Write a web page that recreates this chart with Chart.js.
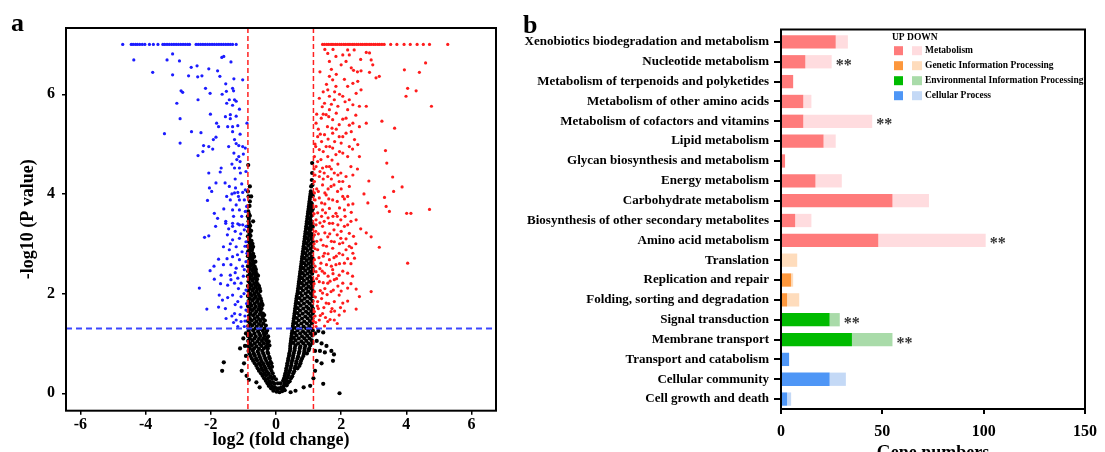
<!DOCTYPE html>
<html>
<head>
<meta charset="utf-8">
<script src="https://cdn.jsdelivr.net/npm/chart.js@4.4.0/dist/chart.umd.min.js"></script>
<style>
  html, body { margin: 0; padding: 0; background: #fff; }
  #wrap { position: relative; width: 1105px; height: 452px; overflow: hidden; font-family: "Liberation Serif", "Times New Roman", serif; }
  .panel { position: absolute; top: 0; }
  #volcanoBox { left: 0; width: 500px; height: 452px; }
  #keggBox { left: 520px; width: 585px; height: 464px; }
  .tag { position: absolute; font-weight: bold; font-size: 26px; line-height: 26px; }
</style>
</head>
<body>
<div id="wrap">
  <div class="panel" id="volcanoBox"><canvas id="volcano"></canvas></div>
  <div class="panel" id="keggBox"><canvas id="kegg"></canvas></div>
  <div class="tag" style="left:11px;top:10px">a</div>
  <div class="tag" style="left:523px;top:12px">b</div>
</div>
<script>
// ---------- panel a: volcano plot (log2 FC, -log10 P) ----------
const foldTicks = [-6, -4, -2, 0, 2, 4, 6];
const pTicks = [0, 2, 4, 6];
const foldCutoffs = [-0.86, 1.15];
const pCutoff = 1.3;

// down-regulated (blue)
const downGenes = [
  [-4.70,7.0],[-4.44,7.0],[-4.38,7.0],[-4.31,7.0],[-4.25,7.0],[-4.18,7.0],[-4.10,7.0],[-4.02,7.0],[-3.88,7.0],[-3.76,7.0],
  [-3.62,7.0],[-3.47,7.0],[-3.41,7.0],[-3.34,7.0],[-3.27,7.0],[-3.20,7.0],[-3.13,7.0],[-3.06,7.0],[-2.99,7.0],[-2.92,7.0],
  [-2.85,7.0],[-2.78,7.0],[-2.71,7.0],[-2.65,7.0],[-2.45,7.0],[-2.38,7.0],[-2.31,7.0],[-2.24,7.0],[-2.17,7.0],[-2.10,7.0],
  [-2.03,7.0],[-1.96,7.0],[-1.89,7.0],[-1.82,7.0],[-1.75,7.0],[-1.68,7.0],[-1.61,7.0],[-1.54,7.0],[-1.47,7.0],[-1.40,7.0],
  [-1.33,7.0],[-1.22,7.0],
  [-4.36,6.69],[-3.78,6.44],[-3.34,6.69],[-3.17,6.81],[-2.96,6.67],[-3.17,6.39],[-2.91,6.07],[-2.86,6.04],[-3.04,5.82],
  [-2.94,5.51],[-3.42,5.21],[-2.94,5.02],[-2.59,5.25],[-2.30,5.23],[-2.60,6.54],[-2.42,6.57],[-2.68,6.37],[-2.40,6.35],
  [-2.27,6.37],[-2.06,6.51],[-2.16,6.12],[-2.02,6.02],[-2.39,5.89],[-2.01,5.60],[-1.82,5.42],[-1.76,5.35],[-1.79,6.47],
  [-1.72,6.36],[-1.66,6.74],[-1.60,6.76],[-1.38,6.65],[-1.54,6.21],[-1.29,6.31],[-1.02,6.29],[-1.52,6.06],[-1.33,6.12],
  [-1.30,6.07],[-1.43,5.89],[-1.27,5.89],[-1.51,5.82],[-1.33,5.78],[-1.22,5.86],[-1.40,5.59],[-1.40,5.51],[-1.22,5.56],
  [-1.48,5.35],[-1.33,5.35],[-1.17,5.37],[-0.89,5.42],[-1.33,5.25],[-1.27,5.09],[-1.84,5.14],[-1.92,5.09],[-2.06,4.95],
  [-2.22,4.97],[-2.24,4.85],[-2.39,4.77],[-1.94,4.90],[-1.22,5.01],[-1.14,4.97],[-1.02,4.95],[-0.94,4.92],[-1.29,4.82],
  [-1.14,4.75],[-1.20,4.69],[-1.27,4.52],[-1.12,4.52],[-1.09,4.42],[-1.68,4.52],[-1.71,4.44],[-2.06,4.42],[-1.84,4.22],
  [-1.56,4.22],[-2.04,4.12],[-1.97,4.05],[-2.10,3.87],[-1.43,4.15],[-1.24,4.12],[-1.27,4.02],[-1.17,4.03],[-1.02,4.03],
  [-0.94,4.08],[-1.51,3.95],[-1.40,3.88],[-1.12,3.88],[-0.97,3.88],[-1.22,3.78],[-1.33,3.68],[-1.12,3.68],[-0.94,3.65],
  [-1.89,3.61],[-1.79,3.51],[-1.54,3.45],[-1.33,3.41],[-1.17,3.40],[-1.02,3.38],[-0.92,3.35],
  [-2.06,3.16],[-2.19,3.13],[-1.54,3.41],[-1.33,3.35],[-1.12,3.38],[-0.97,3.28],[-1.49,3.18],[-1.33,3.08],[-1.12,3.11],
  [-0.92,3.04],[-1.61,2.94],[-1.43,2.88],[-1.22,2.94],[-1.04,2.84],[-0.89,2.81],[-1.76,2.69],[-1.33,2.74],[-1.12,2.68],
  [-0.92,2.64],[-1.61,2.58],[-1.38,2.58],[-1.22,2.51],[-2.02,2.46],[-0.97,2.48],[-1.40,2.37],[-1.17,2.31],[-1.68,2.37],
  [-1.89,2.29],[-1.48,2.17],[-1.27,2.21],[-1.07,2.21],[-2.35,2.11],[-0.92,2.07],[-1.74,1.97],[-1.33,1.97],[-1.07,1.94],
  [-1.64,1.87],[-1.17,1.84],[-1.76,1.73],[-1.07,1.73],[-2.12,1.69],[-0.92,1.67],[-1.27,1.60],[-1.53,1.50],[-1.22,1.47],
  [-1.07,1.44],[-0.97,1.34],[-1.17,1.34],
  [-0.95,1.55],[-1.10,1.58],[-1.35,1.55],[-0.90,1.80],[-1.25,1.78],[-1.48,1.92],[-0.98,2.00],[-1.15,2.10],[-1.38,2.28],
  [-1.00,2.35],[-1.25,2.42],[-1.50,2.70],[-1.02,2.55],[-1.18,2.78],[-1.40,3.00],[-0.95,2.95],[-1.08,3.20],[-1.25,3.25],
  [-1.45,3.30],[-1.60,3.70],[-1.05,3.55],[-1.30,3.55],[-0.90,3.75],[-1.15,3.95],[-1.35,4.00],[-1.05,4.20],[-1.25,4.30],
  [-0.92,4.45],[-1.10,4.65],[-1.35,4.60],[-1.00,4.80],[-1.45,4.95],[-1.10,5.20],[-1.55,5.55],[-1.12,5.70],[-1.65,6.00],
  [-0.95,1.45],[-1.30,1.42],[-1.55,1.70],[-1.90,2.55],[-1.70,2.20],[-1.85,3.35]
];

// up-regulated (red)
const upGenes = [
  [1.43,7.0],[1.49,7.0],[1.56,7.0],[1.62,7.0],[1.69,7.0],[1.75,7.0],[1.82,7.0],[1.88,7.0],[1.95,7.0],[2.01,7.0],
  [2.08,7.0],[2.14,7.0],[2.21,7.0],[2.27,7.0],[2.34,7.0],[2.40,7.0],[2.47,7.0],[2.53,7.0],[2.60,7.0],[2.66,7.0],
  [2.73,7.0],[2.79,7.0],[2.86,7.0],[2.92,7.0],[2.99,7.0],[3.05,7.0],[3.12,7.0],[3.18,7.0],[3.25,7.0],[3.32,7.0],
  [3.52,7.0],[3.71,7.0],[3.93,7.0],[4.12,7.0],[4.33,7.0],[4.52,7.0],[4.71,7.0],[5.27,7.0],
  [1.59,6.82],[1.64,6.66],[1.84,6.76],[2.05,6.79],[2.20,6.89],[2.25,6.79],[2.40,6.89],[2.15,6.66],[2.00,6.59],[2.77,6.84],
  [2.87,6.83],[2.92,6.69],[2.97,6.59],[2.31,6.53],[2.38,6.48],[2.61,6.47],[2.87,6.44],[3.07,6.33],[3.17,6.36],[1.64,6.36],
  [1.74,6.29],[1.84,6.16],[1.59,6.09],[1.64,5.96],[1.79,5.89],[1.33,5.92],[1.49,5.82],[2.05,5.96],[2.20,6.16],[2.36,6.22],
  [2.51,6.26],[2.61,6.09],[2.46,6.02],[2.25,5.89],[2.36,5.79],[2.56,5.76],[2.77,5.76],[2.20,5.69],[1.90,5.76],[1.64,5.69],
  [1.54,5.59],[1.39,5.52],[1.23,5.42],[1.74,5.49],[1.94,5.39],[2.15,5.52],[2.36,5.42],[2.56,5.35],[2.77,5.42],[3.25,5.46],
  [3.64,5.32],[3.94,6.49],[4.40,6.44],[4.59,6.63],[4.04,6.12],[4.30,6.07],[3.99,5.96],[4.77,5.76],[1.28,5.15],[1.49,5.19],
  [1.74,5.22],[1.94,5.15],[2.15,5.22],[2.31,5.25],[2.41,5.09],[2.51,4.99],[2.25,4.95],[2.00,5.02],[1.74,4.92],[1.54,4.95],
  [1.33,4.89],[1.18,4.75],[1.38,4.69],[1.59,4.75],[1.84,4.79],[2.05,4.82],[2.20,4.75],[2.56,4.75],[3.36,4.87],[3.40,4.62],
  [3.58,4.34],[3.87,4.14],[3.61,4.05],[3.33,3.93],[3.38,3.75],[3.48,3.65],[4.01,3.61],[4.14,3.61],[4.71,3.69],[2.85,4.26],
  [2.82,3.82],[2.36,3.80],[2.31,3.63],[2.46,3.48],[1.23,4.55],[1.43,4.52],[1.64,4.55],[1.79,4.42],[1.59,4.35],[1.33,4.35],
  [1.18,4.25],[1.43,4.18],[1.69,4.15],[1.94,4.25],[2.15,4.35],[2.36,4.38],[1.99,4.42],[2.25,4.15],[1.89,4.05],[1.18,4.02],
  [1.33,3.92],[1.54,3.98],[1.74,3.88],[2.05,3.95],[1.23,3.75],[1.43,3.68],[1.64,3.71],[1.84,3.61],[2.10,3.68],[1.23,3.48],
  [1.48,3.45],[1.74,3.41],[1.99,3.48],[2.20,3.38],
  [1.23,3.38],[1.43,3.35],[1.64,3.41],[1.90,3.38],[2.10,3.35],[2.25,3.21],[2.77,3.22],[2.92,3.14],[3.17,2.93],[4.04,2.61],
  [1.18,3.18],[1.38,3.08],[1.59,3.14],[1.79,3.04],[1.99,3.11],[1.28,2.88],[1.49,2.81],[1.74,2.91],[1.94,2.81],[2.15,2.88],
  [2.36,2.81],[2.41,2.71],[1.18,2.68],[1.38,2.61],[1.64,2.68],[1.84,2.58],[2.10,2.61],[1.23,2.44],[1.49,2.41],[1.74,2.48],
  [1.94,2.37],[2.20,2.41],[1.33,2.24],[1.59,2.21],[1.79,2.28],[2.05,2.21],[2.20,2.11],[2.46,2.09],[2.92,2.04],[2.56,1.94],
  [1.18,2.04],[1.43,2.01],[1.69,2.04],[1.94,1.97],[1.28,1.84],[1.54,1.81],[1.79,1.84],[2.05,1.81],[2.46,1.69],[1.18,1.64],
  [1.43,1.60],[1.69,1.64],[1.94,1.57],[1.33,1.47],[1.59,1.44],[1.79,1.47],[1.23,1.34],[1.49,1.35],
  [1.20,1.55],[1.30,1.70],[1.40,1.90],[1.50,2.10],[1.60,2.35],[1.70,2.55],[1.85,2.75],[1.95,3.00],[1.25,2.30],[1.35,2.50],
  [1.45,2.75],[1.55,2.95],[1.65,3.20],[1.75,3.55],[1.20,2.90],[1.30,3.20],[1.40,3.55],[1.50,3.80],[1.60,4.10],[1.70,4.30],
  [1.25,4.10],[1.35,4.45],[1.45,4.30],[1.55,4.55],[1.65,4.95],[1.80,5.05],[1.90,4.60],[2.00,4.10],[2.10,3.90],[2.15,3.10],
  [2.25,2.95],[2.30,2.60],[1.90,2.15],[1.80,1.65],[2.10,1.65],[1.15,1.45],[1.17,2.20],[1.17,3.00],[1.17,3.60],[1.17,4.50],
  [1.20,5.00],[1.30,5.30],[1.45,5.60],[1.55,6.20],[1.70,6.50],[1.85,6.40],[1.95,6.00],[2.05,5.50],[1.85,5.30],[2.50,4.50],
  [2.70,4.00],[2.60,3.30],[2.45,3.00],[1.35,6.45],[1.50,6.90],[1.75,6.90],[2.60,6.70],
  [1.22,1.42],[1.36,1.56],[1.52,1.52],[1.66,1.48],[1.88,1.40],[1.27,1.75],[1.47,1.72],[1.62,1.80],[1.72,1.70],[1.98,1.72],
  [2.20,1.85],[1.21,1.93],[1.36,2.06],[1.57,1.98],[1.76,2.07],[2.00,2.05],[2.30,2.20],[1.30,2.36],[1.45,2.22],[1.66,2.25],
  [1.86,2.30],[2.05,2.45],[2.35,2.35],[1.20,2.55],[1.42,2.45],[1.55,2.58],[1.75,2.40],[1.95,2.60],[2.20,2.70],[1.32,2.72],
  [1.60,2.80],[1.78,2.72],[2.05,2.78],[2.32,2.92],[1.25,3.05],[1.45,2.97],[1.70,3.05],[1.88,3.18],[2.05,3.02],[2.38,3.15],
  [1.22,3.25],[1.50,3.22],[1.78,3.28],[2.00,3.25],[2.30,3.45],[1.35,3.42],[1.60,3.52],[1.88,3.55],[2.12,3.55],[1.28,3.62],
  [1.52,3.62],[1.95,3.72],[2.22,3.78],[1.20,3.88],[1.40,3.82],[1.62,3.90],[1.88,3.85],[2.20,3.95],[1.30,4.05],[1.50,4.02],
  [1.78,4.18],[2.05,4.25],[1.20,4.38],[1.48,4.42],[1.70,4.50],[1.90,4.38],[2.30,4.55],[1.28,4.65],[1.45,4.85],[1.72,4.68],
  [1.95,4.85],[2.35,4.90],[1.22,4.95],[1.40,5.05],[1.60,5.10],[2.05,5.15],[1.36,5.20],[1.58,5.35],[1.72,5.32],[2.25,5.38],
  [1.25,5.60],[1.62,5.55],[1.85,5.62],[2.45,5.58],[1.42,5.75],[1.70,5.80],[2.12,5.85],[1.45,6.05],[1.80,6.05],[2.10,6.30],
  [2.50,6.45]
];

// not significant (black)
const nsGenes = [
  [-0.08,0.05],[0.02,0.03],[0.11,0.02],[0.19,0.04],[0.27,0.06],
  [-0.15,0.10],[-0.05,0.10],[0.05,0.08],[0.15,0.09],[0.23,0.10],
  [-0.22,0.15],[-0.12,0.14],[-0.03,0.12],[0.07,0.10],[0.16,0.12],[0.24,0.15],[0.33,0.16],
  [-0.26,0.20],[-0.15,0.20],[-0.04,0.19],[0.14,0.20],[0.27,0.20],[0.37,0.21],
  [-0.31,0.25],[-0.20,0.24],[-0.09,0.22],[0.06,0.20],[0.22,0.25],[0.31,0.26],[0.42,0.24],
  [-0.36,0.30],[-0.24,0.30],[-0.12,0.29],[0.00,0.28],[0.25,0.30],[0.35,0.31],[0.46,0.30],
  [-0.41,0.35],[-0.30,0.36],[-0.17,0.34],[-0.06,0.33],[0.27,0.35],[0.38,0.36],[0.50,0.34],
  [-0.46,0.40],[-0.35,0.40],[-0.22,0.39],[-0.10,0.40],[0.29,0.40],[0.40,0.41],[0.53,0.40],
  [-0.52,0.45],[-0.40,0.46],[-0.28,0.44],[-0.14,0.45],[0.31,0.45],[0.43,0.46],[0.56,0.44],
  [-0.56,0.50],[-0.44,0.50],[-0.31,0.49],[-0.18,0.50],[0.32,0.50],[0.45,0.51],[0.58,0.50],[0.66,0.50],
  [-0.60,0.55],[-0.47,0.56],[-0.35,0.54],[-0.22,0.55],[-0.12,0.53],[0.34,0.55],[0.47,0.56],[0.60,0.54],[0.72,0.55],
  [-0.65,0.60],[-0.52,0.60],[-0.39,0.59],[-0.26,0.60],[-0.14,0.60],[0.35,0.60],[0.48,0.61],[0.62,0.60],[0.75,0.60],
  [-0.70,0.65],[-0.58,0.66],[-0.44,0.64],[-0.30,0.65],[-0.17,0.63],[0.37,0.65],[0.50,0.66],[0.63,0.64],[0.77,0.65],
  [-0.74,0.70],[-0.61,0.70],[-0.47,0.69],[-0.33,0.70],[-0.19,0.70],[0.38,0.70],[0.52,0.71],[0.66,0.70],[0.80,0.70],
  [-0.78,0.75],[-0.65,0.76],[-0.50,0.74],[-0.36,0.75],[-0.21,0.73],[0.40,0.75],[0.53,0.76],[0.68,0.74],[0.84,0.75],
  [-0.81,0.80],[-0.68,0.80],[-0.53,0.79],[-0.39,0.80],[-0.24,0.80],[0.41,0.80],[0.55,0.81],[0.70,0.80],[0.86,0.80],[0.95,0.80],
  [-0.84,0.85],[-0.71,0.86],[-0.56,0.84],[-0.42,0.85],[-0.26,0.83],[0.43,0.85],[0.57,0.86],[0.72,0.84],[0.87,0.85],[1.00,0.86],
  [-0.80,0.90],[-0.67,0.90],[-0.52,0.89],[-0.37,0.90],[-0.25,0.90],[0.44,0.90],[0.58,0.91],[0.73,0.90],[0.88,0.90],[1.02,0.90],
  [-0.86,0.95],[-0.74,0.96],[-0.60,0.94],[-0.45,0.95],[-0.30,0.94],[-0.20,0.96],[0.44,0.95],[0.60,0.96],[0.75,0.94],[0.90,0.95],[1.05,0.96],
  [-0.79,1.00],[-0.65,1.00],[-0.50,0.99],[-0.37,1.00],[-0.26,1.00],[0.45,1.00],[0.53,1.01],[0.68,1.00],[0.84,1.00],[1.00,1.00],[1.12,1.01],
  [-0.85,1.05],[-0.72,1.06],[-0.57,1.04],[-0.43,1.05],[-0.30,1.06],[-0.22,1.04],[0.46,1.05],[0.60,1.06],[0.78,1.04],[0.93,1.05],[1.10,1.06],
  [-0.80,1.10],[-0.66,1.10],[-0.52,1.09],[-0.39,1.10],[-0.28,1.10],[0.47,1.10],[0.55,1.11],[0.70,1.10],[0.87,1.10],[1.03,1.10],
  [-0.86,1.15],[-0.76,1.16],[-0.62,1.14],[-0.48,1.15],[-0.35,1.16],[-0.24,1.14],[0.48,1.15],[0.63,1.16],[0.80,1.14],[0.96,1.15],[1.12,1.16],
  [-0.81,1.20],[-0.66,1.20],[-0.51,1.19],[-0.37,1.20],[-0.30,1.21],[0.49,1.20],[0.58,1.21],[0.74,1.20],[0.90,1.20],[1.06,1.20],
  [-0.84,1.25],[-0.70,1.26],[-0.55,1.24],[-0.40,1.25],[-0.27,1.26],[0.50,1.25],[0.66,1.26],[0.83,1.24],[0.99,1.25],[1.13,1.26],
  [-0.78,1.30],[-0.63,1.30],[-0.48,1.29],[-0.35,1.30],[0.51,1.30],[0.60,1.31],[0.76,1.30],[0.93,1.30],[1.08,1.30],
  [-0.85,1.35],[-0.73,1.36],[-0.59,1.34],[-0.45,1.35],[-0.31,1.36],[0.52,1.35],[0.68,1.36],[0.85,1.34],[1.02,1.35],
  [-0.80,1.40],[-0.66,1.40],[-0.52,1.39],[-0.39,1.40],[0.53,1.40],[0.62,1.41],[0.78,1.40],[0.95,1.40],[1.10,1.40],
  [-0.86,1.45],[-0.74,1.46],[-0.60,1.44],[-0.47,1.45],[-0.34,1.46],[0.54,1.45],[0.70,1.46],[0.87,1.44],[1.04,1.45],
  [-0.80,1.50],[-0.65,1.50],[-0.52,1.49],[-0.40,1.50],[0.55,1.50],[0.64,1.51],[0.80,1.50],[0.97,1.50],[1.12,1.50],
  [-0.83,1.55],[-0.70,1.56],[-0.57,1.54],[-0.42,1.55],[-0.36,1.57],[0.56,1.55],[0.72,1.56],[0.90,1.54],[1.06,1.55],
  [-0.78,1.60],[-0.64,1.60],[-0.50,1.59],[-0.40,1.60],[0.57,1.60],[0.66,1.61],[0.82,1.60],[0.99,1.60],[1.13,1.60],
  [-0.85,1.65],[-0.73,1.66],[-0.60,1.64],[-0.47,1.65],[0.58,1.65],[0.74,1.66],[0.92,1.64],[1.08,1.65],
  [-0.80,1.70],[-0.67,1.70],[-0.54,1.69],[-0.44,1.70],[0.59,1.70],[0.67,1.71],[0.84,1.70],[1.00,1.70],[1.13,1.70],
  [-0.86,1.75],[-0.75,1.76],[-0.62,1.74],[-0.50,1.75],[-0.41,1.77],[0.60,1.75],[0.76,1.76],[0.94,1.74],[1.10,1.75],
  [-0.79,1.80],[-0.65,1.80],[-0.52,1.79],[-0.43,1.80],[0.61,1.80],[0.70,1.81],[0.86,1.80],[1.03,1.80],
  [-0.84,1.85],[-0.72,1.86],[-0.58,1.84],[-0.45,1.85],[0.62,1.85],[0.79,1.86],[0.96,1.84],[1.12,1.85],
  [-0.80,1.90],[-0.67,1.90],[-0.55,1.89],[-0.47,1.90],[0.63,1.90],[0.72,1.91],[0.88,1.90],[1.05,1.90],
  [-0.86,1.95],[-0.74,1.96],[-0.62,1.94],[-0.50,1.95],[0.64,1.95],[0.80,1.96],[0.97,1.94],[1.12,1.95],
  [-0.79,2.00],[-0.66,2.00],[-0.54,1.99],[0.66,2.00],[0.75,2.01],[0.91,2.00],[1.07,2.00],
  [-0.85,2.05],[-0.72,2.06],[-0.60,2.04],[-0.48,2.05],[0.67,2.05],[0.83,2.06],[0.99,2.04],[1.13,2.05],
  [-0.80,2.10],[-0.68,2.10],[-0.57,2.09],[-0.50,2.10],[0.68,2.10],[0.77,2.11],[0.93,2.10],[1.08,2.10],
  [-0.86,2.15],[-0.75,2.16],[-0.63,2.14],[-0.52,2.15],[0.69,2.15],[0.85,2.16],[1.00,2.14],[1.12,2.15],
  [-0.80,2.20],[-0.67,2.20],[-0.56,2.19],[0.70,2.20],[0.79,2.21],[0.94,2.20],[1.09,2.20],
  [-0.84,2.25],[-0.72,2.26],[-0.60,2.24],[0.71,2.25],[0.86,2.26],[1.02,2.24],[1.13,2.25],
  [-0.79,2.30],[-0.68,2.30],[-0.58,2.29],[0.72,2.30],[0.80,2.31],[0.96,2.30],[1.10,2.30],
  [-0.86,2.35],[-0.75,2.36],[-0.63,2.34],[-0.55,2.36],[0.73,2.35],[0.88,2.36],[1.04,2.34],
  [-0.80,2.40],[-0.69,2.40],[-0.59,2.39],[0.74,2.40],[0.82,2.41],[0.97,2.40],[1.11,2.40],
  [-0.85,2.45],[-0.73,2.46],[-0.62,2.44],[0.75,2.45],[0.90,2.46],[1.05,2.44],[1.13,2.45],
  [-0.80,2.50],[-0.70,2.50],[-0.62,2.49],[0.76,2.50],[0.84,2.51],[0.99,2.50],[1.12,2.50],
  [-0.86,2.55],[-0.76,2.56],[-0.65,2.54],[0.77,2.55],[0.92,2.56],[1.07,2.54],
  [-0.79,2.60],[-0.69,2.60],[0.78,2.60],[0.86,2.61],[1.00,2.60],[1.12,2.60],
  [-0.84,2.65],[-0.73,2.66],[-0.63,2.64],[0.79,2.65],[0.94,2.66],[1.08,2.64],
  [-0.80,2.70],[-0.72,2.70],[0.80,2.70],[0.88,2.71],[1.02,2.70],[1.13,2.70],
  [-0.86,2.75],[-0.76,2.76],[-0.67,2.74],[0.81,2.75],[0.95,2.76],[1.10,2.74],
  [-0.80,2.80],[-0.70,2.80],[0.82,2.80],[0.90,2.81],[1.04,2.80],
  [-0.85,2.85],[-0.74,2.86],[0.83,2.85],[0.97,2.86],[1.11,2.84],
  [-0.81,2.90],[-0.73,2.90],[0.84,2.90],[0.92,2.91],[1.06,2.90],
  [-0.86,2.95],[-0.77,2.96],[-0.70,2.94],[0.85,2.95],[0.99,2.96],[1.12,2.94],
  [-0.80,3.00],[-0.72,3.00],[0.86,3.00],[0.94,3.01],[1.07,3.00],
  [-0.84,3.05],[-0.75,3.06],[0.87,3.05],[1.00,3.06],[1.13,3.04],
  [-0.82,3.10],[0.88,3.10],[0.96,3.11],[1.08,3.10],
  [-0.86,3.15],[-0.78,3.16],[0.89,3.15],[1.02,3.16],[1.12,3.14],
  [-0.81,3.20],[0.90,3.20],[0.98,3.21],[1.09,3.20],
  [-0.85,3.25],[-0.76,3.26],[0.91,3.25],[1.04,3.26],
  [-0.82,3.30],[0.92,3.30],[1.00,3.31],[1.10,3.30],
  [-0.86,3.35],[-0.79,3.36],[0.93,3.35],[1.06,3.36],[1.13,3.34],
  [-0.82,3.40],[0.94,3.40],[1.02,3.41],[1.12,3.40],
  [-0.84,3.45],[-0.70,3.45],[0.95,3.45],[1.07,3.46],
  [-0.83,3.50],[0.96,3.50],[1.04,3.51],
  [-0.86,3.55],[-0.80,3.56],[0.97,3.55],[1.09,3.56],
  [-0.83,3.60],[0.98,3.60],[1.05,3.61],
  [-0.85,3.65],[0.99,3.65],[1.10,3.66],[1.13,3.70],
  [1.00,3.70],[1.06,3.71],
  [-0.86,3.75],[-0.81,3.76],[1.01,3.75],[1.11,3.76],
  [1.02,3.80],[1.10,3.80],
  [-0.80,3.85],[1.03,3.85],[1.08,3.82],
  [1.04,3.90],
  [-0.84,3.95],[-0.76,3.95],[1.05,3.95],[1.13,3.96],
  [1.06,4.00],[1.10,4.00],
  [-0.86,4.05],[1.07,4.05],
  [-0.80,4.15],[1.08,4.15],[1.12,4.18],
  [1.10,4.28],[1.11,4.42],[-0.85,4.58],[1.11,4.62],
  [-0.92,1.20],[-1.00,1.10],[-0.95,0.95],[-1.10,0.90],[-0.92,0.75],[-0.98,0.60],[-1.05,0.45],[-0.90,0.35],[-1.60,0.62],
  [-1.65,0.45],[-0.60,0.22],[-0.83,0.27],[-0.50,0.12],
  [1.20,1.20],[1.30,1.25],[1.45,1.22],[1.25,1.05],[1.40,1.00],[1.55,0.95],[1.20,0.85],[1.35,0.85],[1.50,0.82],[1.70,0.85],
  [1.78,0.78],[1.75,0.65],[1.25,0.65],[1.40,0.60],[1.20,0.45],[1.15,0.30],[0.85,0.12],[1.05,0.15],[1.45,0.19],[1.95,0.00],
  [0.60,0.05],[0.45,0.02]
];

// ---------- panel b: KEGG pathway classes ----------
const pathways = [
  'Xenobiotics biodegradation and metabolism', 'Nucleotide metabolism', 'Metabolism of terpenoids and polyketides',
  'Metabolism of other amino acids', 'Metabolism of cofactors and vitamins', 'Lipid metabolism',
  'Glycan biosynthesis and metabolism', 'Energy metabolism', 'Carbohydrate metabolism',
  'Biosynthesis of other secondary metabolites', 'Amino acid metabolism', 'Translation', 'Replication and repair',
  'Folding, sorting and degradation', 'Signal transduction', 'Membrane transport', 'Transport and catabolism',
  'Cellular community', 'Cell growth and death'
];
const pathwayGroups = [
  'Metabolism', 'Metabolism', 'Metabolism', 'Metabolism', 'Metabolism', 'Metabolism', 'Metabolism', 'Metabolism',
  'Metabolism', 'Metabolism', 'Metabolism',
  'Genetic Information Processing', 'Genetic Information Processing', 'Genetic Information Processing',
  'Environmental Information Processing', 'Environmental Information Processing',
  'Cellular Process', 'Cellular Process', 'Cellular Process'
];
const upCounts   = [27, 12, 6, 11, 11, 21, 2, 17, 55, 7, 48, 0, 5, 3, 24, 35, 4, 24, 3];
const downCounts = [6, 13, 0, 4, 34, 6, 0, 13, 18, 8, 53, 8, 1, 6, 5, 20, 0, 8, 2];
const signif = ['', '**', '', '', '**', '', '', '', '', '', '**', '', '', '', '**', '**', '', '', ''];
const countTicks = [0, 50, 100, 150];
const groupNames = ['Metabolism', 'Genetic Information Processing', 'Environmental Information Processing', 'Cellular Process'];
const groupColors = {
  'Metabolism': ['#ff7b7b', '#ffdcdf'],
  'Genetic Information Processing': ['#fd973c', '#fedcbc'],
  'Environmental Information Processing': ['#00bb00', '#a9dba9'],
  'Cellular Process': ['#4e96f6', '#c4d9f6']
};

Chart.defaults.font.family = '"Liberation Serif", "Times New Roman", serif';
Chart.defaults.font.weight = 'bold';
Chart.defaults.color = '#000';

// box around the plotting area
const frame = {
  id: 'frame',
  afterDraw(chart, args, opts) {
    const a = chart.chartArea, ctx = chart.ctx;
    const ext = opts.extend || 0;
    ctx.save();
    ctx.lineWidth = 2;
    ctx.strokeStyle = '#000';
    ctx.strokeRect(a.left, a.top - ext, a.right - a.left, a.bottom - a.top + ext);
    ctx.restore();
  }
};

// threshold lines of the volcano plot
const cutoffLines = {
  id: 'cutoffLines',
  afterDatasetsDraw(chart) {
    const { ctx, chartArea: a, scales: { x, y } } = chart;
    ctx.save();
    ctx.strokeStyle = '#ff2020';
    ctx.lineWidth = 1.5;
    ctx.setLineDash([5, 3]);
    foldCutoffs.forEach(v => {
      const px = x.getPixelForValue(v);
      ctx.beginPath(); ctx.moveTo(px, a.top); ctx.lineTo(px, a.bottom); ctx.stroke();
    });
    ctx.strokeStyle = '#3c48ff';
    ctx.lineWidth = 2;
    ctx.setLineDash([6, 4]);
    const py = y.getPixelForValue(pCutoff);
    ctx.beginPath(); ctx.moveTo(a.left, py); ctx.lineTo(a.right, py); ctx.stroke();
    ctx.restore();
  }
};

// ** after the bars
const starMarks = {
  id: 'starMarks',
  afterDatasetsDraw(chart) {
    const ctx = chart.ctx;
    const meta = chart.getDatasetMeta(1);
    ctx.save();
    ctx.font = 'bold 16px "Liberation Serif"';
    ctx.fillStyle = '#333';
    ctx.textAlign = 'left';
    ctx.textBaseline = 'alphabetic';
    signif.forEach((s, i) => {
      if (!s) return;
      const bar = meta.data[i];
      ctx.fillText(s, bar.x + 4, bar.y + 8);
    });
    ctx.restore();
  }
};

// UP / DOWN legend by pathway class
const groupLegend = {
  id: 'groupLegend',
  afterDraw(chart) {
    const ctx = chart.ctx, a = chart.chartArea;
    const x0 = a.left + 111;
    ctx.save();
    ctx.font = 'bold 9.5px "Liberation Serif"';
    ctx.textBaseline = 'middle';
    ctx.fillStyle = '#000';
    ctx.fillText('UP DOWN', x0, 37.5);
    groupNames.forEach((g, i) => {
      const cy = 50.7 + i * 15;
      ctx.fillStyle = groupColors[g][0];
      ctx.fillRect(x0 + 2, cy - 4.5, 9, 9);
      ctx.fillStyle = groupColors[g][1];
      ctx.fillRect(x0 + 20, cy - 4.5, 10, 9);
      ctx.fillStyle = '#000';
      ctx.fillText(g, x0 + 33, cy);
    });
    ctx.restore();
  }
};

const toXY = arr => arr.map(([x, y]) => ({ x, y }));

new Chart(document.getElementById('volcano'), {
  type: 'scatter',
  data: {
    datasets: [
      { label: 'down', data: toXY(downGenes), backgroundColor: '#1c1cff', pointRadius: 1.6, borderWidth: 0 },
      { label: 'up', data: toXY(upGenes), backgroundColor: '#ff1c1c', pointRadius: 1.6, borderWidth: 0 },
      { label: 'ns', data: toXY(nsGenes), backgroundColor: '#000', pointRadius: 2.1, borderWidth: 0 }
    ]
  },
  options: {
    responsive: true,
    maintainAspectRatio: false,
    animation: false,
    layout: { padding: { top: 28, right: 4, left: 0, bottom: 0 } },
    plugins: { legend: { display: false }, tooltip: { enabled: false } },
    scales: {
      x: {
        type: 'linear', min: -6.44, max: 6.75,
        afterFit: s => { s.height = 41.3; },
        afterBuildTicks: s => { s.ticks = foldTicks.map(v => ({ value: v })); },
        grid: { drawOnChartArea: false, tickLength: 4, color: '#000', lineWidth: 1.5 },
        border: { display: false },
        ticks: { font: { size: 16, weight: 'bold' }, color: '#000', padding: 1, maxRotation: 0 },
        title: { display: true, text: 'log2 (fold change)', font: { size: 18, weight: 'bold' }, color: '#000', padding: { top: 0, bottom: 0.6 } }
      },
      y: {
        type: 'linear', min: -0.35, max: 7.33,
        afterFit: s => { s.width = 66; },
        afterBuildTicks: s => { s.ticks = pTicks.map(v => ({ value: v })); },
        grid: { drawOnChartArea: false, tickLength: 4, color: '#000', lineWidth: 1.5 },
        border: { display: false },
        ticks: { font: { size: 16, weight: 'bold' }, color: '#000', padding: 7 },
        title: { display: true, text: '-log10 (P value)', font: { size: 18, weight: 'bold' }, color: '#000', padding: { top: 18, bottom: 0 } }
      }
    }
  },
  plugins: [cutoffLines, frame]
});

new Chart(document.getElementById('kegg'), {
  type: 'bar',
  data: {
    labels: pathways,
    datasets: [
      { label: 'UP', data: upCounts, backgroundColor: pathwayGroups.map(g => groupColors[g][0]), barPercentage: 0.67, categoryPercentage: 1, borderWidth: 0 },
      { label: 'DOWN', data: downCounts, backgroundColor: pathwayGroups.map(g => groupColors[g][1]), barPercentage: 0.67, categoryPercentage: 1, borderWidth: 0 }
    ]
  },
  options: {
    indexAxis: 'y',
    responsive: true,
    maintainAspectRatio: false,
    animation: false,
    layout: { padding: { top: 32, right: 14, left: 0, bottom: 0 } },
    plugins: { legend: { display: false }, tooltip: { enabled: false }, frame: { extend: 2.5 } },
    scales: {
      x: {
        stacked: true, min: 0, max: 150,
        afterFit: s => { s.height = 55; },
        afterBuildTicks: s => { s.ticks = countTicks.map(v => ({ value: v })); },
        grid: { drawOnChartArea: false, tickLength: 5, color: '#000', lineWidth: 2 },
        border: { display: false },
        ticks: { font: { size: 16, weight: 'bold' }, color: '#000', padding: 8, maxRotation: 0 },
        title: { display: true, text: 'Gene numbers', font: { size: 18, weight: 'bold' }, color: '#000', padding: { top: 0, bottom: 0 } }
      },
      y: {
        stacked: true,
        afterFit: s => { s.width = 261; },
        grid: { drawOnChartArea: false, offset: false, tickLength: 7, color: '#000', lineWidth: 2 },
        border: { display: false },
        ticks: { font: { size: 13, weight: 'bold' }, color: '#000', padding: 5, autoSkip: false }
      }
    }
  },
  plugins: [starMarks, groupLegend, frame]
});
</script>
</body>
</html>
